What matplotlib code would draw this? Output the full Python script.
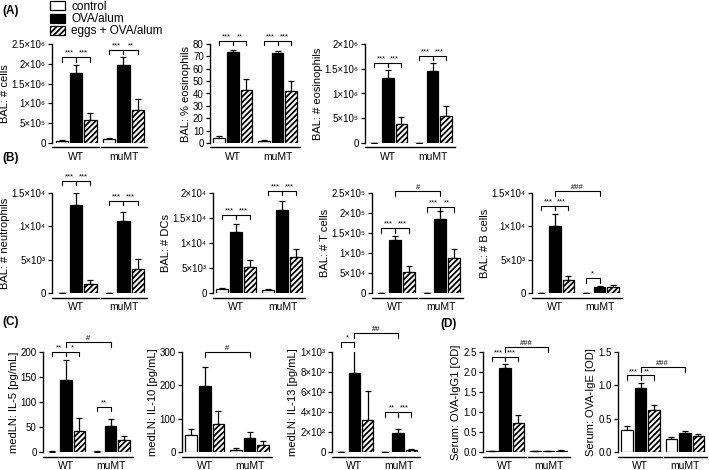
"""
Bar chart panels: BAL cell counts, medLN cytokines and serum antibodies
in WT vs muMT mice (control / OVA/alum / eggs + OVA/alum).
"""

import matplotlib
matplotlib.use("Agg")
import matplotlib.pyplot as plt
from matplotlib.patches import Patch
from matplotlib.transforms import blended_transform_factory
import numpy as np

plt.rcParams["font.family"] = ["Liberation Sans", "DejaVu Sans"]
plt.rcParams["hatch.linewidth"] = 1.3
plt.rcParams["axes.linewidth"] = 1.0

treatments = ["control", "OVA/alum", "eggs + OVA/alum"]
strains = ["WT", "muMT"]

# (A) BAL
cells_mean = [0.05e6, 1.78e6, 0.57e6, 0.09e6, 1.97e6, 0.83e6]
cells_err = [0.02e6, 0.2e6, 0.2e6, 0.04e6, 0.2e6, 0.28e6]
eos_pct_mean = [4.0, 73.3, 43.2, 1.6, 72.8, 42.1]
eos_pct_err = [1.9, 1.9, 8.8, 0.5, 1.6, 7.8]
eos_mean = [0.005e6, 1.31e6, 0.38e6, 0.005e6, 1.45e6, 0.54e6]
eos_err = [0, 0.16e6, 0.15e6, 0, 0.17e6, 0.2e6]

# (B) BAL
neut_mean = [0.005e4, 1.325e4, 0.135e4, 0.005e4, 1.075e4, 0.36e4]
neut_err = [0, 0.175e4, 0.065e4, 0, 0.135e4, 0.15e4]
dc_mean = [0.08e4, 1.23e4, 0.53e4, 0.067e4, 1.67e4, 0.72e4]
dc_err = [0.02e4, 0.16e4, 0.14e4, 0.02e4, 0.18e4, 0.17e4]
tcell_mean = [0.01e5, 1.32e5, 0.52e5, 0.01e5, 1.85e5, 0.875e5]
tcell_err = [0, 0.11e5, 0.15e5, 0, 0.21e5, 0.235e5]
bcell_mean = [0.005e4, 1.01e4, 0.19e4, 0.005e4, 0.09e4, 0.09e4]
bcell_err = [0, 0.18e4, 0.06e4, 0, 0.02e4, 0.035e4]

# (C) medLN
il5_mean = [1, 145, 42, 1, 52, 23.5]
il5_err = [0.5, 40, 27, 0.5, 14, 9]
il10_mean = [50, 199, 83, 7, 43, 20]
il10_err = [20, 57, 40, 5, 17, 12]
il13_mean = [5, 790, 320, 2, 190, 20]
il13_err = [0, 250, 290, 0, 45, 10]

# (D) serum
igg1_mean = [0.02, 2.1, 0.72, 0.02, 0.02, 0.03]
igg1_err = [0.005, 0.09, 0.21, 0.005, 0.005, 0.01]
ige_mean = [0.325, 0.96, 0.635, 0.19, 0.29, 0.235]
ige_err = [0.065, 0.08, 0.065, 0.035, 0.02, 0.04]

# tick values
sup = str.maketrans("0123456789", "⁰¹²³⁴⁵⁶⁷⁸⁹")


def sci(v):
    if v == 0:
        return "0"
    e = int(np.floor(np.log10(v)))
    m = v / 10 ** e
    return f"{m:g}×10{str(e).translate(sup)}"


cells_ticks = [0, 5e5, 1e6, 1.5e6, 2e6, 2.5e6]
eos_pct_ticks = list(range(0, 90, 10))
eos_ticks = [0, 5e5, 1e6, 1.5e6, 2e6]
neut_ticks = [0, 5e3, 1e4, 1.5e4]
dc_ticks = [0, 5e3, 1e4, 1.5e4, 2e4]
tcell_ticks = [0, 5e4, 1e5, 1.5e5, 2e5, 2.5e5]
bcell_ticks = [0, 5e3, 1e4, 1.5e4]
il5_ticks = [0, 50, 100, 150, 200]
il10_ticks = [0, 100, 200, 300]
il13_ticks = [0, 200, 400, 600, 800, 1000]
igg1_ticks = [0.0, 0.5, 1.0, 1.5, 2.0, 2.5]
ige_ticks = [0.0, 0.5, 1.0, 1.5]

# bar x positions: control, OVA, eggs for WT then muMT
xpos = np.array([0, 1, 2, 3.3, 4.3, 5.3])
W, H = 709, 470
fig = plt.figure(figsize=(W / 100, H / 100), dpi=100)

fills = ["white", "black", "white"]
hatches = [None, None, "//////"]


def make_axes(x0, x1, ytop, ybot):
    return fig.add_axes([x0 / W, 1 - ybot / H, (x1 - x0) / W, (ybot - ytop) / H])


def bracket(ax, xa, xb, y, text, ymax):
    h = 0.045 * ymax
    ax.plot([xa, xa, xb, xb], [y - h, y, y, y - h], color="black", lw=0.8,
            clip_on=False)
    ax.text((xa + xb) / 2, y + 0.004 * ymax, text, ha="center", va="bottom",
            fontsize=5.5, clip_on=False)


def panel(ax, mean, err, ticks, labels, ylabel, brackets):
    ymax = ticks[-1]
    for i in range(6):
        ax.bar(xpos[i], mean[i], width=0.86, color=fills[i % 3],
               edgecolor="black", hatch=hatches[i % 3], linewidth=0.9, zorder=2)
    ax.errorbar(xpos, mean, yerr=[np.zeros(6), err], fmt="none", ecolor="black",
                elinewidth=0.9, capsize=2.5, capthick=0.9, zorder=1)
    ax.set_xlim(-0.68, 5.95)
    ax.set_ylim(0, ymax)
    ax.set_yticks(ticks)
    ax.set_yticklabels(labels)
    ax.tick_params(axis="y", labelsize=7, length=3, width=0.9, pad=1.5)
    ax.set_xticks([])
    for s in ["top", "right", "bottom"]:
        ax.spines[s].set_visible(False)
    ax.set_ylabel(ylabel, fontsize=8, labelpad=1.5)
    tr = blended_transform_factory(ax.transData, ax.transAxes)
    for (a, b), name in zip([(-0.65, 2.6), (2.72, 5.95)], strains):
        ax.plot([a, b], [-0.045, -0.045], color="black", lw=1.0,
                transform=tr, clip_on=False)
        ax.text((a + b) / 2, -0.09, name, transform=tr, ha="center",
                va="top", fontsize=7.5)
    for ia, ib, y, txt in brackets:
        bracket(ax, xpos[ia], xpos[ib], y, txt, ymax)


def lbl(ticks, fmt=None):
    if fmt == "sci":
        return [sci(t) for t in ticks]
    if fmt == "f1":
        return [f"{t:.1f}" for t in ticks]
    return [f"{t:g}" for t in ticks]


# row A
ax = make_axes(52, 147, 44, 143)
panel(ax, cells_mean, cells_err, cells_ticks, lbl(cells_ticks, "sci"),
      "BAL: # cells",
      [(0, 1, 2.17e6, "***"), (1, 2, 2.17e6, "***"),
       (3, 4, 2.36e6, "***"), (4, 5, 2.36e6, "**")])
ax = make_axes(210, 300, 44, 143)
panel(ax, eos_pct_mean, eos_pct_err, eos_pct_ticks, lbl(eos_pct_ticks),
      "BAL: % eosinophils",
      [(0, 1, 82.5, "***"), (1, 2, 82.5, "**"),
       (3, 4, 82.5, "***"), (4, 5, 82.5, "***")])
ax = make_axes(365, 455, 44, 143)
panel(ax, eos_mean, eos_err, eos_ticks, lbl(eos_ticks, "sci"),
      "BAL: # eosinophils",
      [(0, 1, 1.62e6, "***"), (1, 2, 1.62e6, "***"),
       (3, 4, 1.76e6, "***"), (4, 5, 1.76e6, "***")])

# row B
ax = make_axes(52, 147, 193, 293)
panel(ax, neut_mean, neut_err, neut_ticks, lbl(neut_ticks, "sci"),
      "BAL: # neutrophils",
      [(0, 1, 1.685e4, "***"), (1, 2, 1.685e4, "***"),
       (3, 4, 1.385e4, "***"), (4, 5, 1.385e4, "***")])
ax = make_axes(213, 305, 193, 293)
panel(ax, dc_mean, dc_err, dc_ticks, lbl(dc_ticks, "sci"),
      "BAL: # DCs",
      [(0, 1, 1.57e4, "***"), (1, 2, 1.57e4, "***"),
       (3, 4, 2.05e4, "***"), (4, 5, 2.05e4, "***")])
ax = make_axes(372, 463, 193, 293)
panel(ax, tcell_mean, tcell_err, tcell_ticks, lbl(tcell_ticks, "sci"),
      "BAL: # T cells",
      [(0, 1, 1.625e5, "***"), (1, 2, 1.625e5, "***"),
       (3, 4, 2.15e5, "***"), (4, 5, 2.15e5, "**"),
       (1, 4, 2.55e5, "#")])
ax = make_axes(532, 622, 193, 293)
panel(ax, bcell_mean, bcell_err, bcell_ticks, lbl(bcell_ticks, "sci"),
      "BAL: # B cells",
      [(0, 1, 1.31e4, "***"), (1, 2, 1.31e4, "***"),
       (3, 4, 0.225e4, "*"), (1, 4, 1.525e4, "###")])

# row C / D
ax = make_axes(43, 133, 352, 452)
panel(ax, il5_mean, il5_err, il5_ticks, lbl(il5_ticks),
      "medLN: IL-5 [pg/mL]",
      [(0, 1, 201, "**"), (1, 2, 201, "*"),
       (3, 4, 91, "**"), (1, 4, 220, "#")])
ax = make_axes(182, 272, 352, 452)
panel(ax, il10_mean, il10_err, il10_ticks, lbl(il10_ticks),
      "medLN: IL-10 [pg/mL]",
      [(1, 4, 300, "#")])
ax = make_axes(332, 420, 352, 452)
panel(ax, il13_mean, il13_err, il13_ticks, lbl(il13_ticks, "sci"),
      "medLN: IL-13 [pg/mL]",
      [(0, 1, 1100, "*"), (1, 4, 1190, "##"),
       (3, 4, 400, "**"), (4, 5, 400, "***")])
ax = make_axes(483, 570, 352, 452)
panel(ax, igg1_mean, igg1_err, igg1_ticks, lbl(igg1_ticks, "f1"),
      "Serum: OVA-IgG1 [OD]",
      [(0, 1, 2.38, "***"), (1, 2, 2.38, "***"), (1, 4, 2.62, "###")])
ax = make_axes(618, 707, 352, 452)
panel(ax, ige_mean, ige_err, ige_ticks, lbl(ige_ticks, "f1"),
      "Serum: OVA-IgE [OD]",
      [(0, 1, 1.15, "***"), (1, 2, 1.15, "**"), (1, 4, 1.275, "###")])

# panel letters
for x, y, s in [(2, 5, "(A)"), (2, 152, "(B)"), (2, 316, "(C)"), (440, 318, "(D)")]:
    fig.text(x / W, 1 - y / H, s, fontsize=8.5, fontweight="bold", va="top")

handles = [Patch(facecolor=fills[i], edgecolor="black", hatch=hatches[i],
                 linewidth=0.9) for i in range(3)]
fig.legend(handles, treatments, loc="upper left",
           bbox_to_anchor=(50 / W, 1 - 1 / H), frameon=False, fontsize=8.5,
           handlelength=1.3, handleheight=0.8, handletextpad=0.5,
           labelspacing=0.02, borderaxespad=0, borderpad=0)

fig.savefig("out.png", dpi=100)
